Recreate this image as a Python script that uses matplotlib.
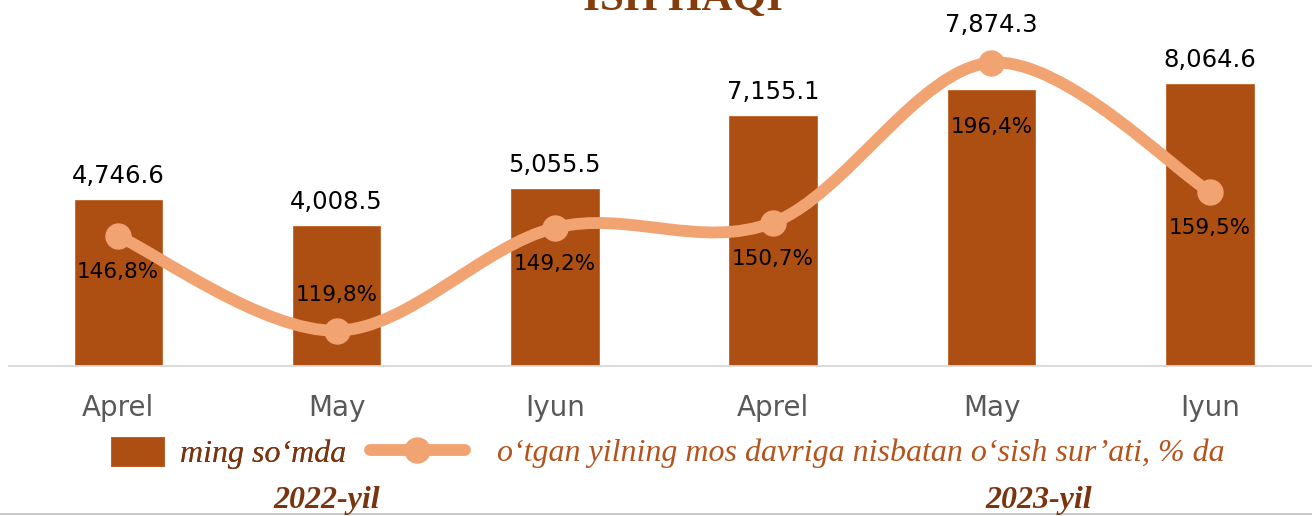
import matplotlib

matplotlib.use("Agg")
import matplotlib.pyplot as plt
from matplotlib.lines import Line2D
from matplotlib.patches import PathPatch
from matplotlib.path import Path

# data
months = ["Aprel", "May", "Iyun", "Aprel", "May", "Iyun"]
wages = [4746.6, 4008.5, 5055.5, 7155.1, 7874.3, 8064.6]  # ming so'mda
growth = [146.8, 119.8, 149.2, 150.7, 196.4, 159.5]  # % da
years = ["2022-yil", "2023-yil"]

# label nudges (points): value labels above bars, growth labels vs marker
val_off = [12, 12, 12, 12, 42, 12]
pct_off = [-26, 26, -26, -26, -46, -26]

BAR = "#AD4E12"
LINE = "#F1A372"
DARK = "#7A3510"

W, H = 1312, 516
fig = plt.figure(figsize=(W / 100, H / 100), dpi=100)
ax = fig.add_axes([9 / W, 150 / H, 1310 / W, 366 / H])
ax2 = ax.twinx()

x = list(range(len(months)))
bars = ax.bar(x, wages, 0.4, color=BAR, edgecolor="#C0622A", linewidth=0.6, zorder=2)
for xi, v, off in zip(x, wages, val_off):
    ax.annotate(f"{v:,.1f}", (xi, v), xytext=(0, off), textcoords="offset points",
                ha="center", va="baseline", fontsize=17.5, color="black")

ax.set_xlim(-0.5, 5.5)
ax.set_ylim(0, 10457)
ax.set_xticks(x)
ax.set_xticklabels(months, fontsize=20, color="#595959")
ax.tick_params(axis="x", length=0, pad=20)
ax.set_yticks([])
for s in ["top", "right", "left"]:
    ax.spines[s].set_visible(False)
ax.spines["bottom"].set_color("#D9D9D9")
ax.spines["bottom"].set_linewidth(1.3)

# smoothed growth line (Catmull-Rom as cubic Bezier)
pts = list(zip(x, growth))
verts = [pts[0]]
codes = [Path.MOVETO]
n = len(pts)
for i in range(n - 1):
    p0 = pts[max(i - 1, 0)]
    p1 = pts[i]
    p2 = pts[i + 1]
    p3 = pts[min(i + 2, n - 1)]
    c1 = (p1[0] + (p2[0] - p0[0]) / 6, p1[1] + (p2[1] - p0[1]) / 6)
    c2 = (p2[0] - (p3[0] - p1[0]) / 6, p2[1] - (p3[1] - p1[1]) / 6)
    verts += [c1, c2, p2]
    codes += [Path.CURVE4] * 3
ax2.add_patch(PathPatch(Path(verts, codes), fill=False, edgecolor=LINE, linewidth=8.5,
                        capstyle="round", joinstyle="round", zorder=3))
ax2.plot(x, growth, "o", ms=18, color=LINE, zorder=4)
for xi, v, off in zip(x, growth, pct_off):
    ax2.annotate(f"{v:.1f}%".replace(".", ","), (xi, v), xytext=(0, off), textcoords="offset points",
                 ha="center", va="center", fontsize=15.5, color="black", zorder=5)
ax2.set_ylim(109.7, 214.3)
ax2.set_yticks([])
for s in ax2.spines.values():
    s.set_visible(False)

# legends
leg1 = fig.legend([bars], ["ming so\u2018mda"], loc="center left", bbox_to_anchor=(111 / W, 1 - 453 / H),
                  frameon=False, borderpad=0, borderaxespad=0, handlelength=1.66, handleheight=1.04,
                  handletextpad=0.5, prop={"family": "Liberation Serif", "style": "italic", "size": 23})
leg1.get_texts()[0].set_color(DARK)
line_h = Line2D([], [], color=LINE, lw=8.5, marker="o", ms=18, solid_capstyle="round")
leg2 = fig.legend([line_h], ["o\u2018tgan yilning mos davriga nisbatan o\u2018sish sur\u2019ati, % da"],
                  loc="center left", bbox_to_anchor=(370 / W, 1 - 453 / H), frameon=False, borderpad=0,
                  borderaxespad=0, handlelength=2.97, handletextpad=1.0, markerscale=1,
                  prop={"family": "Liberation Serif", "style": "italic", "size": 23})
leg2.get_texts()[0].set_color("#B5531D")
fig.add_artist(leg1)

# title (cut by the top edge, as in the source) and year labels
fig.text(683 / W, 1 - 10 / H, "ISH HAQI", ha="center", va="baseline", fontsize=31,
         fontweight="bold", family="Liberation Serif", color="#843C0C")
for xc, yr in zip([327, 1039], years):
    fig.text(xc / W, 8 / H, yr, ha="center", va="baseline", fontsize=23, fontweight="bold",
             style="italic", family="Liberation Serif", color=DARK)
fig.add_artist(Line2D([0, 1], [2 / H, 2 / H], transform=fig.transFigure, color="#BFBFBF", lw=1.2))

fig.savefig("out.png", dpi=100)
